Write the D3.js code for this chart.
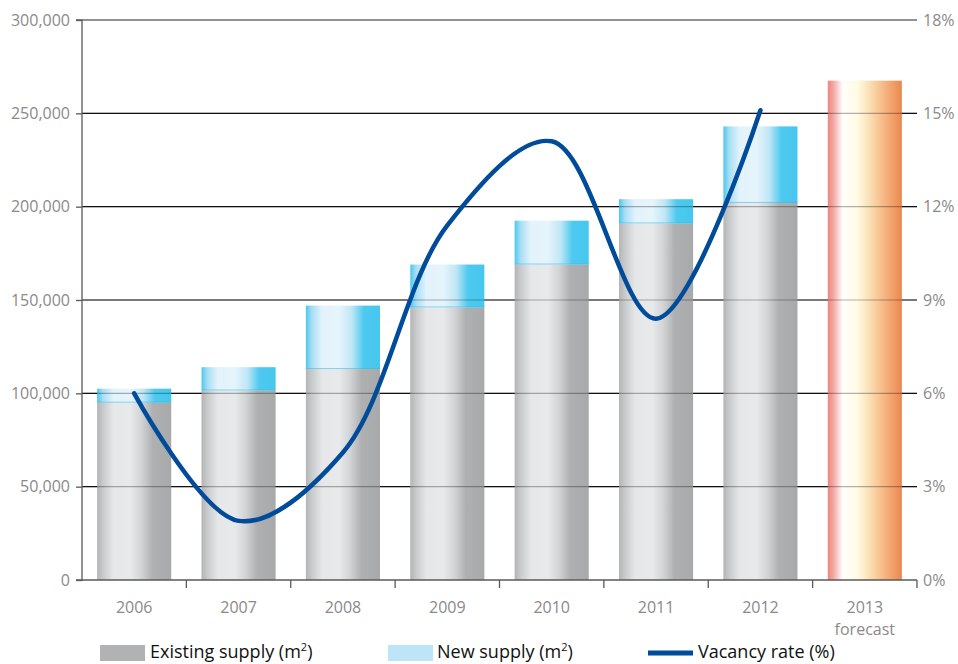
<!DOCTYPE html>
<html><head><meta charset="utf-8">
<script src="https://cdn.jsdelivr.net/npm/d3@7"></script>
<style>
body{margin:0;background:#fff;}
text{font-family:"Open Sans","Noto Sans",sans-serif;}
</style></head><body>
<svg id="c" width="958" height="664"></svg>
<script>
const years = ["2006","2007","2008","2009","2010","2011","2012","2013"];
const existing = [95000,101500,113000,146000,169000,191000,202000,null];
const newSupply = [7500,12500,34000,23000,23500,13000,41000,null];
const forecastTotal = [null,null,null,null,null,null,null,267500];
const vacancy = [6.0,1.9,4.1,11.4,14.1,8.4,15.1];
const leftTicks = [0,50000,100000,150000,200000,250000,300000];
const rightTicks = [0,3,6,9,12,15,18];

const svg = d3.select("#c");
const L=82, R=917, T=20, B=580;
const x = d3.scaleBand().domain(years).range([L,R]).paddingInner(0.29).paddingOuter(0.145);
const yL = d3.scaleLinear().domain([0,300000]).range([B,T]);
const yR = d3.scaleLinear().domain([0,18]).range([B,T]);

const defs = svg.append("defs");
function grad(id, stops){
  const g = defs.append("linearGradient").attr("id",id).attr("x1","0%").attr("x2","100%").attr("y1","0%").attr("y2","0%");
  stops.forEach(s=>g.append("stop").attr("offset",s[0]).attr("stop-color",s[1]));
}
grad("gGray",[["0%","#b3b4b5"],["8%","#c9cacb"],["22%","#e6e7e8"],["45%","#e8e9ea"],["60%","#d2d3d4"],["75%","#aeb0b1"],["100%","#a7a9aa"]]);
grad("gBlue",[["0%","#4cc8ee"],["8%","#a8def4"],["22%","#e3f3fb"],["45%","#e6f4fb"],["62%","#bfe6f6"],["78%","#4ec9ef"],["100%","#46c7ee"]]);
grad("gFore",[["0%","#ee8580"],["8%","#f3aaa6"],["20%","#fffefd"],["40%","#fffbe3"],["55%","#fbe2b8"],["75%","#f6b985"],["100%","#ec874f"]]);

// gridlines behind
const grid = svg.append("g");
grid.selectAll("line").data(leftTicks.filter(d=>d>0)).join("line")
  .attr("x1",L).attr("x2",R).attr("y1",d=>yL(d)).attr("y2",d=>yL(d))
  .attr("stroke",d=>d===300000?"#6e6e6e":"#1e1e1e").attr("stroke-width",d=>d===300000?1.6:1.1);

// bars
const bars = svg.append("g");
years.forEach((yr,i)=>{
  if(existing[i]!=null){
    bars.append("rect").attr("x",x(yr)).attr("width",x.bandwidth())
      .attr("y",yL(existing[i])).attr("height",yL(0)-yL(existing[i])).attr("fill","url(#gGray)");
    bars.append("rect").attr("x",x(yr)).attr("width",x.bandwidth())
      .attr("y",yL(existing[i]+newSupply[i])).attr("height",yL(existing[i])-yL(existing[i]+newSupply[i])).attr("fill","url(#gBlue)");
    bars.append("line").attr("x1",x(yr)).attr("x2",x(yr)+x.bandwidth())
      .attr("y1",yL(existing[i])-0.5).attr("y2",yL(existing[i])-0.5).attr("stroke","#3fb6df").attr("stroke-opacity",0.6);
  }
  if(forecastTotal[i]!=null){
    bars.append("rect").attr("x",x(yr)).attr("width",x.bandwidth())
      .attr("y",yL(forecastTotal[i])).attr("height",yL(0)-yL(forecastTotal[i])).attr("fill","url(#gFore)");
  }
});

// translucent gridlines over bars
svg.append("g").selectAll("line").data(leftTicks.filter(d=>d>0&&d<300000)).join("line")
  .attr("x1",L).attr("x2",R).attr("y1",d=>yL(d)).attr("y2",d=>yL(d))
  .attr("stroke","#000").attr("stroke-opacity",0.3).attr("stroke-width",1.1);

// vacancy line
const line = d3.line().x((d,i)=>x(years[i])+x.bandwidth()/2).y(d=>yR(d)).curve(d3.curveCatmullRom.alpha(0.5));
svg.append("path").datum(vacancy).attr("d",line).attr("fill","none")
  .attr("stroke","#004b9a").attr("stroke-width",4.5).attr("stroke-linecap","round");

// left axis
const axL = svg.append("g").attr("transform",`translate(${L},0)`)
  .call(d3.axisLeft(yL).tickValues(leftTicks).tickFormat(d3.format(",")).tickSize(6).tickPadding(6));
axL.select(".domain").attr("stroke","#5a5a5a").attr("stroke-width",1.3).attr("d",`M-6,${B}H0V${T}H-6`);
axL.selectAll(".tick line").attr("stroke","#5a5a5a").attr("stroke-width",1.3);
axL.selectAll("text").attr("fill","#8a8a8a").attr("font-size",16);

// right axis labels
const axR = svg.append("g").attr("transform",`translate(${R},0)`)
  .call(d3.axisRight(yR).tickValues(rightTicks).tickFormat(d=>d+"%").tickSize(0).tickPadding(6));
axR.select(".domain").remove();
axR.selectAll("text").attr("fill","#8a8a8a").attr("font-size",16);

// bottom axis
const base = svg.append("g");
base.append("line").attr("x1",L).attr("x2",R).attr("y1",B).attr("y2",B).attr("stroke","#5a5a5a").attr("stroke-width",1.3);
const bounds = years.map(yr=>x(yr)-x.step()*x.paddingInner()/2).slice(1).concat([R]);
base.selectAll(".tk").data(bounds).join("line").attr("class","tk")
  .attr("x1",d=>d).attr("x2",d=>d).attr("y1",B).attr("y2",B+8).attr("stroke","#5a5a5a").attr("stroke-width",1.3);
base.selectAll(".yl").data(years).join("text").attr("class","yl")
  .attr("x",d=>x(d)+x.bandwidth()/2).attr("y",613).attr("text-anchor","middle")
  .attr("fill","#8a8a8a").attr("font-size",16).text(d=>d);
base.append("text").attr("x",x("2013")+x.bandwidth()/2).attr("y",635).attr("text-anchor","middle")
  .attr("fill","#8a8a8a").attr("font-size",16).text("forecast");

// legend
const lg = svg.append("g");
const ly = 658;
lg.append("rect").attr("x",100).attr("y",645).attr("width",45).attr("height",16).attr("fill","#b1b2b3");
lg.append("text").attr("x",150).attr("y",ly).attr("font-size",18).attr("fill","#111").html('Existing supply (m<tspan font-size="11" dy="-7">2</tspan><tspan dy="7">)</tspan>');
lg.append("rect").attr("x",388).attr("y",645).attr("width",45).attr("height",16).attr("fill","#bee5f7");
lg.append("text").attr("x",437).attr("y",ly).attr("font-size",18).attr("fill","#111").html('New supply (m<tspan font-size="11" dy="-7">2</tspan><tspan dy="7">)</tspan>');
lg.append("line").attr("x1",648).attr("x2",693).attr("y1",653).attr("y2",653).attr("stroke","#004b9a").attr("stroke-width",5);
lg.append("text").attr("x",698).attr("y",ly).attr("font-size",18).attr("fill","#111").text("Vacancy rate (%)");
</script></body></html>
